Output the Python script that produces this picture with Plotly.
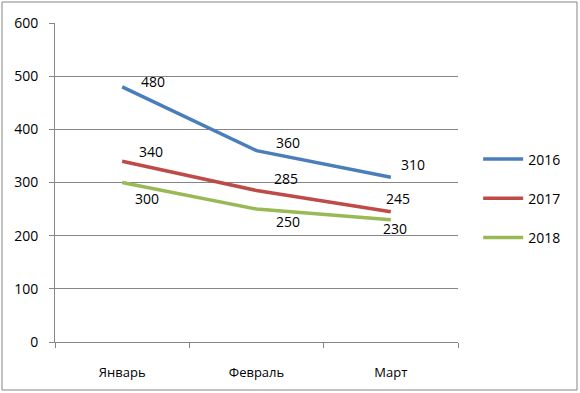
import plotly.graph_objects as go

months = ["Январь", "Февраль", "Март"]
years = ["2016", "2017", "2018"]
v2016 = [480, 360, 310]
v2017 = [340, 285, 245]
v2018 = [300, 250, 230]
y_ticks = [0, 100, 200, 300, 400, 500, 600]

series = [v2016, v2017, v2018]
colors = ["#4A7EBB", "#BE4B48", "#98B954"]
# label offsets (px) per series, per point
shifts = [
    [(17, 5), (17, 8), (8, 13)],
    [(15, 10), (15, 12), (-7, 13)],
    [(11, -16), (17, -12), (-10, -9)],
]

FONT = "Open Sans"
fig = go.Figure()
annotations = []
for name, vals, col, sh in zip(years, series, colors, shifts):
    fig.add_trace(go.Scatter(
        x=months, y=vals, name=name, mode="lines",
        line=dict(color=col, width=3.5), legendgroup=name,
    ))
    for m, v, (dx, dy) in zip(months, vals, sh):
        annotations.append(dict(
            x=m, y=v, xref="x", yref="y", text=str(v), showarrow=False,
            xanchor="left", yanchor="middle", xshift=dx, yshift=dy,
            font=dict(family=FONT, size=14, color="#000000"),
        ))

L, R, T, B = 55, 122, 23, 51
W, H = 580, 393
pw, ph = W - L - R, H - T - B
def px_x(p):
    return (p - L) / pw
def px_y(p):
    return (H - B - p) / ph

fig.update_layout(
    width=W, height=H,
    margin=dict(l=L, r=R, t=T, b=B),
    paper_bgcolor="white", plot_bgcolor="white",
    font=dict(family=FONT, size=14, color="#000000"),
    annotations=annotations,
    showlegend=True,
    legend=dict(
        x=1.05, y=0.45, xanchor="left", yanchor="middle",
        font=dict(family=FONT, size=14, color="#000000"),
        tracegroupgap=18, bgcolor="rgba(0,0,0,0)", itemwidth=40,
    ),
    xaxis=dict(
        type="category", range=[-0.5, 2.5], showgrid=False, showline=True,
        linecolor="#868686", linewidth=1, ticks="outside", tickson="boundaries",
        ticklen=5, tickcolor="#868686", tickfont=dict(family=FONT, size=13),
        zeroline=False, ticklabelstandoff=18,
    ),
    yaxis=dict(
        range=[0, 600], tickvals=y_ticks, showgrid=True, gridcolor="#868686",
        gridwidth=1, showline=True, linecolor="#868686", linewidth=1,
        ticks="outside", ticklen=5, tickcolor="#868686",
        tickfont=dict(family=FONT, size=14), zeroline=False, ticklabelstandoff=8,
    ),
    shapes=[dict(
        type="rect", xref="paper", yref="paper",
        x0=px_x(2), x1=px_x(577), y0=px_y(390), y1=px_y(2),
        line=dict(color="#868686", width=1), fillcolor="rgba(0,0,0,0)",
        layer="below",
    )],
)

fig.write_html(
    "out.html",
    config={"displayModeBar": False},
    post_script="document.body.style.margin='0';document.body.style.padding='0';",
)
